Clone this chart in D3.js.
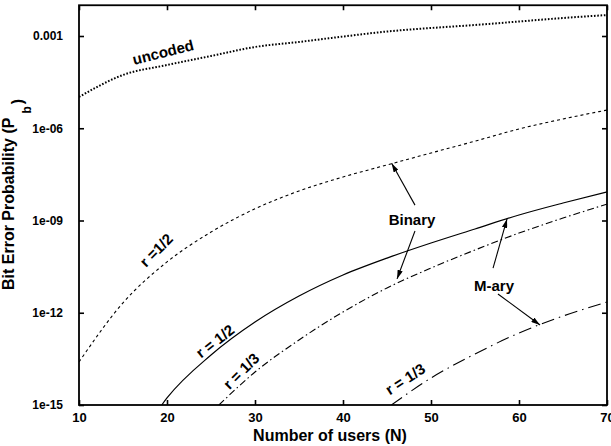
<!DOCTYPE html>
<html>
<head>
<meta charset="utf-8">
<script src="https://cdn.jsdelivr.net/npm/d3@7"></script>
<style>
  html, body { margin: 0; padding: 0; background: #fff; }
  svg { display: block; }
  text { font-family: "Liberation Sans", Arial, Helvetica, sans-serif; font-weight: bold; fill: #000; }
</style>
</head>
<body>
<svg id="chart" width="611" height="446"></svg>
<script>
// Bit error probability vs. number of users, log scale.
const xTicks = [10, 20, 30, 40, 50, 60, 70];
const yTicks = [1e-15, 1e-12, 1e-9, 1e-6, 1e-3];
const yTickLabels = ["1e-15", "1e-12", "1e-09", "1e-06", "0.001"];

// Uncoded system
const uncodedN = [10, 15, 20, 25, 30, 35, 40, 45, 50, 55, 60, 65, 70];
const uncodedPb = [1.04e-5, 5.4e-5, 1.14e-4, 2.24e-4, 4.4e-4, 6.4e-4, 9.6e-4, 1.4e-3, 1.82e-3, 2.28e-3, 2.96e-3, 3.85e-3, 4.8e-3];

// Binary, r = 1/2
const binHalfN = [10, 15, 20, 25, 30, 35, 40, 45, 50, 55, 60, 65, 70];
const binHalfPb = [2.5e-14, 2.1e-12, 4.5e-11, 4.2e-10, 2.4e-9, 9.1e-9, 2.6e-8, 6.4e-8, 1.57e-7, 3.8e-7, 9.5e-7, 2.0e-6, 3.9e-6];

// M-ary, r = 1/2
const maryHalfN = [19.4, 20, 25, 30, 35, 40, 45, 50, 55, 60, 65, 70];
const maryHalfPb = [1e-15, 1.69e-15, 4.23e-14, 5.0e-13, 3.5e-12, 1.69e-11, 6.0e-11, 1.85e-10, 5.3e-10, 1.51e-9, 3.7e-9, 8.5e-9];

// Binary, r = 1/3
const binThirdN = [25.9, 30, 35, 40, 45, 50, 55, 60, 65, 70];
const binThirdPb = [1e-15, 1.18e-14, 1.30e-13, 1.06e-12, 6.4e-12, 2.85e-11, 1.10e-10, 3.9e-10, 1.20e-9, 3.4e-9];

// M-ary, r = 1/3
const maryThirdN = [45.5, 50, 55, 60, 65, 70];
const maryThirdPb = [1e-15, 7.55e-15, 4.56e-14, 2.19e-13, 7.8e-13, 2.24e-12];

const W = 611, H = 446;
const margin = { top: 5.25, right: 4, bottom: 41, left: 79 };

const svg = d3.select("#chart");

const x = d3.scaleLinear().domain([10, 70]).range([margin.left, W - margin.right]);
const y = d3.scaleLog().domain([1e-15, 1e-2]).range([H - margin.bottom, margin.top]);

svg.append("defs").append("clipPath").attr("id", "plotClip")
  .append("rect")
  .attr("x", x(10)).attr("y", y(1e-2))
  .attr("width", x(70) - x(10)).attr("height", y(1e-15) - y(1e-2));

const marker = svg.select("defs").append("marker")
  .attr("id", "arrowHead")
  .attr("viewBox", "0 0 10 6")
  .attr("refX", 10).attr("refY", 3)
  .attr("markerWidth", 9).attr("markerHeight", 5.4)
  .attr("markerUnits", "userSpaceOnUse")
  .attr("orient", "auto");
marker.append("path").attr("d", "M0,0 L10,3 L0,6 Z").attr("fill", "#000");

// Axes (ticks point inward on all four sides)
const tickLen = 5;
const fmtX = d3.format("d");

svg.append("g")
  .attr("transform", `translate(0,${y(1e-15)})`)
  .call(d3.axisBottom(x).tickValues(xTicks).tickSize(-tickLen).tickPadding(8).tickFormat(fmtX))
  .call(g => g.select(".domain").remove())
  .call(g => g.selectAll("text").attr("font-size", 13).style("font-family", "Liberation Sans, Arial, sans-serif").style("font-weight", "bold"));

svg.append("g")
  .attr("transform", `translate(0,${y(1e-2)})`)
  .call(d3.axisTop(x).tickValues(xTicks).tickSize(-tickLen).tickFormat(""))
  .call(g => g.select(".domain").remove());

svg.append("g")
  .attr("transform", `translate(${x(10)},0)`)
  .call(d3.axisLeft(y).tickValues(yTicks).tickSize(-tickLen).tickPadding(16)
    .tickFormat((d, i) => yTickLabels[i]))
  .call(g => g.select(".domain").remove())
  .call(g => g.selectAll("text").attr("font-size", 12).style("font-family", "Liberation Sans, Arial, sans-serif").style("font-weight", "bold"));

svg.append("g")
  .attr("transform", `translate(${x(70)},0)`)
  .call(d3.axisRight(y).tickValues(yTicks).tickSize(-tickLen).tickFormat(""))
  .call(g => g.select(".domain").remove());

svg.selectAll(".tick line").attr("stroke", "#000").attr("stroke-width", 1.6);

// Curves
const line = d3.line()
  .x(d => x(d[0]))
  .y(d => y(d[1]))
  .curve(d3.curveMonotoneX);

const zip = (a, b) => a.map((v, i) => [v, b[i]]);

const series = [
  { n: uncodedN, p: uncodedPb, width: 2, dash: "1.6,1.7" },
  { n: binHalfN, p: binHalfPb, width: 1.1, dash: "3,3" },
  { n: maryHalfN, p: maryHalfPb, width: 1.2, dash: null },
  { n: binThirdN, p: binThirdPb, width: 1.1, dash: "7,3,1.5,3" },
  { n: maryThirdN, p: maryThirdPb, width: 1.1, dash: "13,5,1.5,5" }
];

const plot = svg.append("g").attr("clip-path", "url(#plotClip)");
plot.selectAll("path.curve")
  .data(series)
  .join("path")
  .attr("class", "curve")
  .attr("d", s => line(zip(s.n, s.p)))
  .attr("fill", "none")
  .attr("stroke", "#000")
  .attr("stroke-width", s => s.width)
  .attr("stroke-dasharray", s => s.dash);

// Frame
svg.append("rect")
  .attr("x", x(10)).attr("y", y(1e-2))
  .attr("width", x(70) - x(10)).attr("height", y(1e-15) - y(1e-2))
  .attr("fill", "none").attr("stroke", "#000").attr("stroke-width", 1.8);

// Curve labels (positions in data coordinates)
const curveLabels = [
  { text: "uncoded", n: 19.55, p: Math.pow(10, -3.52), rot: -14 },
  { text: "r =1/2", n: 18.75, p: Math.pow(10, -9.96), rot: -45 },
  { text: "r = 1/2", n: 25.45, p: Math.pow(10, -12.92), rot: -38 },
  { text: "r = 1/3", n: 28.41, p: Math.pow(10, -13.89), rot: -45 },
  { text: "r = 1/3", n: 47.05, p: Math.pow(10, -14.15), rot: -33 },
  { text: "Binary", n: 47.84, p: Math.pow(10, -8.98), rot: 0 },
  { text: "M-ary", n: 57.16, p: Math.pow(10, -11.10), rot: 0 }
];

svg.selectAll("text.curve-label")
  .data(curveLabels)
  .join("text")
  .attr("class", "curve-label")
  .attr("font-size", 15)
  .attr("text-anchor", "middle")
  .attr("dominant-baseline", "central")
  .attr("transform", d => `translate(${x(d.n)},${y(d.p)}) rotate(${d.rot})`)
  .text(d => d.text);

// Arrows pointing from the group labels to their curves
const arrows = [
  { from: [48.18, -8.50], to: [45.53, -7.14] },
  { from: [48.18, -9.34], to: [46.14, -10.90] },
  { from: [57.05, -10.55], to: [58.64, -8.95] },
  { from: [57.61, -11.39], to: [62.39, -12.40] }
];

svg.selectAll("line.arrow")
  .data(arrows)
  .join("line")
  .attr("class", "arrow")
  .attr("x1", d => x(d.from[0])).attr("y1", d => y(Math.pow(10, d.from[1])))
  .attr("x2", d => x(d.to[0])).attr("y2", d => y(Math.pow(10, d.to[1])))
  .attr("stroke", "#000").attr("stroke-width", 1.1)
  .attr("marker-end", "url(#arrowHead)");

// Axis titles
svg.append("text")
  .attr("x", 330).attr("y", 441)
  .attr("text-anchor", "middle")
  .attr("font-size", 16)
  .text("Number of users (N)");

const yTitle = svg.append("text")
  .attr("transform", "translate(14,290) rotate(-90)")
  .attr("font-size", 16);
yTitle.append("tspan").text("Bit Error Probability (P");
yTitle.append("tspan").attr("dx", 4).attr("dy", 17).attr("font-size", 12).text("b");
yTitle.append("tspan").attr("dx", 2).attr("dy", -8).text(")");
</script>
</body>
</html>
